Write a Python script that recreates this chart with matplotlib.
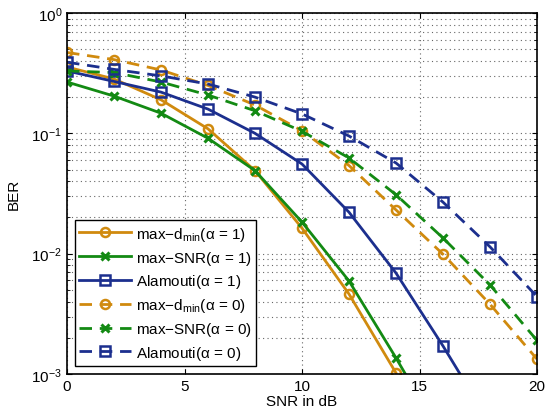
import numpy as np
import matplotlib.pyplot as plt

plt.rcParams['font.family'] = ['Liberation Sans', 'DejaVu Sans']
plt.rcParams['mathtext.fontset'] = 'custom'
plt.rcParams['mathtext.rm'] = 'Liberation Sans'
plt.rcParams['mathtext.it'] = 'Liberation Sans'

snr = [0, 2, 4, 6, 8, 10, 12, 14, 16, 18, 20]

# alpha = 1 (solid)
dmin_a1 = [0.356, 0.283, 0.19, 0.109, 0.049, 0.0163, 0.00462, 0.00102]
snr_a1 = [0.267, 0.204, 0.147, 0.091, 0.049, 0.0183, 0.00593, 0.00136, 0.00029]
alam_a1 = [0.33, 0.27, 0.22, 0.159, 0.10, 0.0556, 0.0221, 0.0069, 0.00171, 0.00039]

# alpha = 0 (dashed)
dmin_a0 = [0.47, 0.41, 0.336, 0.25, 0.172, 0.105, 0.054, 0.0231, 0.0099, 0.0038, 0.00133]
snr_a0 = [0.33, 0.32, 0.267, 0.208, 0.154, 0.104, 0.0624, 0.0309, 0.0135, 0.0055, 0.0019]
alam_a0 = [0.39, 0.34, 0.30, 0.257, 0.20, 0.145, 0.095, 0.0567, 0.0268, 0.0114, 0.0044]

orange = '#D08A0E'
green = '#138A13'
blue = '#1C2F8E'

fig = plt.figure(figsize=(5.47, 4.14), dpi=100)
ax = fig.add_axes([67 / 547, 1 - 375 / 414, 470 / 547, 361 / 414])

lw = 2
ms = 6.5
dash = (0, (4.5, 2.8))
ax.semilogy(snr[:len(dmin_a1)], dmin_a1, '-o', color=orange, lw=lw, ms=ms, mfc='none', mew=1.8,
            label=r'max$-$d$_{\mathrm{min}}$($\alpha$ = 1)')
ax.semilogy(snr[:len(snr_a1)], snr_a1, '-x', color=green, lw=lw, ms=5.5, mew=2.2,
            label=r'max$-$SNR($\alpha$ = 1)')
ax.semilogy(snr[:len(alam_a1)], alam_a1, '-s', color=blue, lw=lw, ms=ms, mfc='none', mew=1.8,
            label=r'Alamouti($\alpha$ = 1)')
ax.semilogy(snr, dmin_a0, marker='o', ls=dash, color=orange, lw=lw, ms=ms, mfc='none', mew=1.8,
            label=r'max$-$d$_{\mathrm{min}}$($\alpha$ = 0)')
ax.semilogy(snr, snr_a0, marker='x', ls=dash, color=green, lw=lw, ms=5.5, mew=2.2,
            label=r'max$-$SNR($\alpha$ = 0)')
ax.semilogy(snr, alam_a0, marker='s', ls=dash, color=blue, lw=lw, ms=ms, mfc='none', mew=1.8,
            label=r'Alamouti($\alpha$ = 0)')

ax.set_xlim(0, 20)
ax.set_ylim(1e-3, 1)
ax.set_xticks([0, 5, 10, 15, 20])
ax.tick_params(which='both', direction='in', top=True, right=True, labelsize=11)
ax.grid(True, which='major', linestyle=(0, (1, 3)), color='0.4', lw=0.8)
ax.grid(True, which='minor', axis='y', linestyle=(0, (1, 3)), color='0.4', lw=0.8)
for s in ax.spines.values():
    s.set_linewidth(1.2)
ax.set_xlabel('SNR in dB', fontsize=11, labelpad=1)
ax.set_ylabel('BER', fontsize=11, labelpad=8)

leg = ax.legend(loc='lower left', fontsize=11, handlelength=3.4, fancybox=False,
                framealpha=1, edgecolor='black', borderpad=0.3, labelspacing=0.38,
                handletextpad=0.3, borderaxespad=0.5)
leg.get_frame().set_linewidth(1.0)

fig.savefig('out.png', dpi=100)
